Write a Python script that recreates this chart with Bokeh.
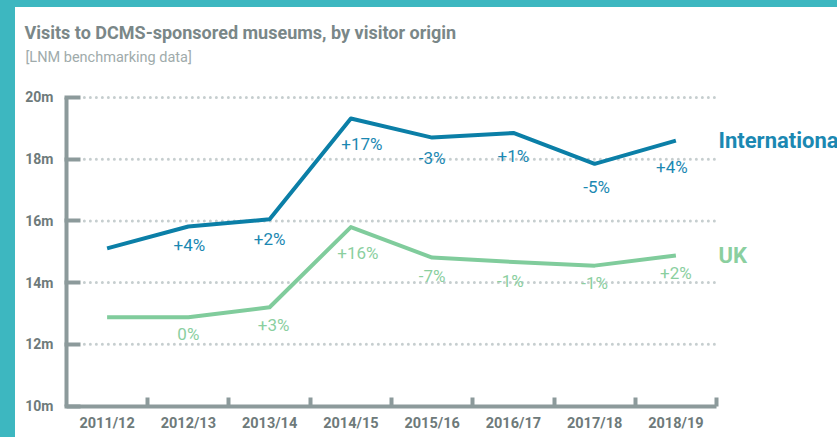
from bokeh.plotting import figure
from bokeh.models import Range1d, FixedTicker, PrintfTickFormatter, Label
from bokeh.core.properties import value
from bokeh.embed import file_html
from bokeh.resources import INLINE

# ---- data ----
title_text = "Visits to DCMS-sponsored museums, by visitor origin"
subtitle_text = "[LNM benchmarking data]"
years = ["2011/12", "2012/13", "2013/14", "2014/15", "2015/16", "2016/17", "2017/18", "2018/19"]
international = [15.11, 15.82, 16.05, 19.32, 18.70, 18.85, 17.85, 18.60]
uk = [12.88, 12.88, 13.20, 15.80, 14.81, 14.67, 14.55, 14.88]
intl_change = ["", "+4%", "+2%", "+17%", "-3%", "+1%", "-5%", "+4%"]
uk_change = ["", "0%", "+3%", "+16%", "-7%", "-1%", "-1%", "+2%"]
y_ticks = [10, 12, 14, 16, 18, 20]
series_names = ["International", "UK"]

# ---- style ----
FONT = "Roboto"
BLUE_LINE = "#0b7fa7"
BLUE_TEXT = "#1b88b2"
GREEN_LINE = "#80cc9c"
GREEN_TEXT = "#8bcf9f"
AXIS = "#8c9a9b"
TICK_TEXT = "#6e7a7a"
TITLE_C = "#7a8788"
SUB_C = "#a0abab"
GRID = "#c6cecf"
TEAL = "#3db7c0"

# pixel nudges of the change labels relative to their points (styling only)
intl_dx = [0, 1, 0, 11, 0, 0, 2, -4]
intl_dy = [0, 19, 20, 26, 20, 23, 23, 26]
uk_dx = [0, 0, 4, 7, 0, -3, 0, 0]
uk_dy = [0, 17, 18, 26, 18, 19, 17, 18]

W, H = 837, 437
x = list(range(len(years)))
x_lo, x_hi = -0.5, len(years) - 0.5
y_lo, y_hi = y_ticks[0], y_ticks[-1]

p = figure(width=W, height=H,
           x_range=Range1d(-1.312, 8.989), y_range=Range1d(8.979, 23.144),
           output_backend="svg", toolbar_location=None,
           min_border_left=0, min_border_right=0, min_border_top=0, min_border_bottom=0,
           border_fill_color=None, background_fill_color=None, outline_line_color=None)

# dotted horizontal guide lines at the tick values (not at the baseline)
p.xgrid.visible = False
p.ygrid.visible = False
grid_y = y_ticks[1:]
p.segment(x0=[x_lo + 0.22] * len(grid_y), x1=[x_hi] * len(grid_y), y0=grid_y, y1=grid_y,
          line_color=GRID, line_width=3, line_dash="0 6", line_cap="round")

# y axis
ya = p.yaxis[0]
ya.fixed_location = x_lo
ya.bounds = (y_lo, y_hi)
ya.ticker = FixedTicker(ticks=y_ticks)
ya.formatter = PrintfTickFormatter(format="%dm")
ya.axis_line_color = AXIS
ya.axis_line_width = 4
ya.major_tick_line_color = AXIS
ya.major_tick_line_width = 4
ya.major_tick_in = 14
ya.major_tick_out = 2
ya.minor_tick_line_color = None
ya.major_label_standoff = 11
ya.major_label_text_font = FONT
ya.major_label_text_font_size = "14px"
ya.major_label_text_font_style = "bold"
ya.major_label_text_color = TICK_TEXT

# x axis
xa = p.xaxis[0]
xa.fixed_location = y_lo
xa.bounds = (x_lo, x_hi)
xa.ticker = FixedTicker(ticks=x, minor_ticks=[i + 0.5 for i in x])
xa.major_label_overrides = {i: yr for i, yr in zip(x, years)}
xa.axis_line_color = AXIS
xa.axis_line_width = 4
xa.major_tick_line_color = None
xa.major_tick_in = 0
xa.major_tick_out = 0
xa.minor_tick_line_color = AXIS
xa.minor_tick_line_width = 4
xa.minor_tick_in = 9
xa.minor_tick_out = 0
xa.major_label_standoff = 9
xa.major_label_text_font = FONT
xa.major_label_text_font_size = "14.5px"
xa.major_label_text_font_style = "bold"
xa.major_label_text_color = TICK_TEXT

# lines
p.line(x, international, line_color=BLUE_LINE, line_width=4, line_join="round")
p.line(x, uk, line_color=GREEN_LINE, line_width=4, line_join="round")

# change labels
p.text(x=x, y=international, text=intl_change, text_align="center", text_baseline="middle",
       x_offset=intl_dx, y_offset=intl_dy, text_color=BLUE_TEXT, text_font=value(FONT),
       text_font_size="17px")
p.text(x=x, y=uk, text=uk_change, text_align="center", text_baseline="middle",
       x_offset=uk_dx, y_offset=uk_dy, text_color=GREEN_TEXT, text_font=value(FONT),
       text_font_size="17px")

# series labels
p.add_layout(Label(x=x_hi, y=international[-1], x_offset=2, text=series_names[0],
                   text_baseline="middle", text_color=BLUE_TEXT, text_font=FONT,
                   text_font_size="22px", text_font_style="bold"))
p.add_layout(Label(x=x_hi, y=uk[-1], x_offset=2, text=series_names[1],
                   text_baseline="middle", text_color=GREEN_TEXT, text_font=FONT,
                   text_font_size="22px", text_font_style="bold"))

# title & subtitle (screen units, origin bottom-left of the frame = canvas)
p.add_layout(Label(x=24, y=H - 32, x_units="screen", y_units="screen", text=title_text,
                   text_baseline="alphabetic", text_color=TITLE_C, text_font=FONT,
                   text_font_size="18px", text_font_style="bold"))
p.add_layout(Label(x=25, y=H - 57, x_units="screen", y_units="screen", text=subtitle_text,
                   text_baseline="alphabetic", text_color=SUB_C, text_font=FONT,
                   text_font_size="14.5px"))

html = file_html(p, INLINE)
css = ("<style>html,body{overflow:hidden;}"
       "html{min-height:100%;background:"
       "linear-gradient(to right," + TEAL + " 15px,transparent 15px) no-repeat,"
       "linear-gradient(to bottom," + TEAL + " 7px,#ffffff 7px) no-repeat;}</style>")
html = html.replace("</head>", css + "</head>", 1)
open("out.html", "w").write(html)
